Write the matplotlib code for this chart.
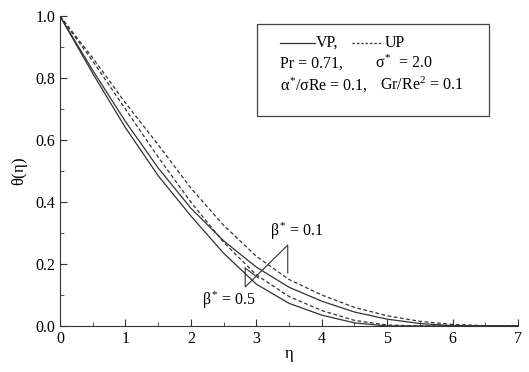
import matplotlib
matplotlib.use("Agg")
import matplotlib.pyplot as plt
from matplotlib.ticker import MultipleLocator

plt.rcParams['font.family'] = ['Liberation Serif', 'DejaVu Serif']
plt.rcParams['mathtext.fontset'] = 'custom'
plt.rcParams['mathtext.rm'] = 'Liberation Serif'
plt.rcParams['mathtext.it'] = 'Liberation Serif'
plt.rcParams['mathtext.bf'] = 'Liberation Serif:bold'

# theta(eta)
eta = [0, 0.5, 1, 1.5, 2, 2.5, 3, 3.5, 4, 4.5, 5, 5.5, 6, 6.5, 7]
vp_b05 = [1.0, 0.815, 0.64, 0.485, 0.355, 0.235, 0.135, 0.073, 0.035, 0.010, 0.0, 0.0, 0.0, 0.0, 0.0]
vp_b01 = [1.0, 0.825, 0.66, 0.51, 0.38, 0.275, 0.19, 0.125, 0.08, 0.045, 0.022, 0.008, 0.001, 0.0, 0.0]
up_b05 = [1.0, 0.855, 0.70, 0.545, 0.40, 0.27, 0.165, 0.095, 0.05, 0.018, 0.003, 0.0, 0.0, 0.0, 0.0]
up_b01 = [1.0, 0.865, 0.72, 0.585, 0.445, 0.325, 0.225, 0.15, 0.10, 0.06, 0.033, 0.015, 0.005, 0.001, 0.0]

fig = plt.figure(figsize=(5.29, 3.72), dpi=100)
ax = fig.add_axes([0.1134, 0.1237, 0.866, 0.833])

lw = 0.9
ax.plot(eta, vp_b05, color='#333333', lw=lw)
ax.plot(eta, vp_b01, color='#333333', lw=lw)
ax.plot(eta, up_b05, color='#333333', lw=lw, ls=(0, (3, 2)))
ax.plot(eta, up_b01, color='#333333', lw=lw, ls=(0, (3, 2)))

# bracket marks for beta*
ax.plot([2.83, 2.83, 3.48, 3.48], [0.187, 0.126, 0.261, 0.171], color='#333333', lw=0.8)
ax.plot([2.83, 3.03], [0.187, 0.155], color='#333333', lw=0.8)
ax.text(3.62, 0.306, r'$\beta^{*}$' + ' = 0.1', ha='center', va='center', fontsize=11.5)
ax.text(2.58, 0.084, r'$\beta^{*}$' + ' = 0.5', ha='center', va='center', fontsize=11.5)

# legend box
ax.add_patch(plt.Rectangle((3.01, 0.677), 3.55, 0.297, fill=False, ec='#444444', lw=0.9))
ax.plot([3.36, 3.90], [0.913, 0.913], color='#333333', lw=lw)
ax.text(3.91, 0.913, 'VP,', ha='left', va='center', fontsize=11.5)
ax.plot([4.46, 4.94], [0.913, 0.913], color='#333333', lw=lw, ls=(0, (2, 1.5)))
ax.text(4.96, 0.913, 'UP', ha='left', va='center', fontsize=11.5)
ax.text(3.36, 0.848, 'Pr = 0.71,', ha='left', va='center', fontsize=11.5)
ax.text(4.81, 0.848, r'$\sigma^{*}$' + '  = 2.0', ha='left', va='center', fontsize=11.5)
ax.text(3.36, 0.777, r'$\alpha^{*}/\sigma$' + 'Re = 0.1,', ha='left', va='center', fontsize=11.5)
ax.text(4.89, 0.777, 'Gr/Re$^{2}$ = 0.1', ha='left', va='center', fontsize=11.5)

ax.set_xlim(0, 7)
ax.set_ylim(0, 1.0)
ax.xaxis.set_major_locator(MultipleLocator(1))
ax.xaxis.set_minor_locator(MultipleLocator(0.5))
ax.yaxis.set_major_locator(MultipleLocator(0.2))
ax.yaxis.set_minor_locator(MultipleLocator(0.1))
ax.yaxis.set_major_formatter(matplotlib.ticker.FormatStrFormatter('%.1f'))
ax.tick_params(which='both', direction='in', labelsize=11.5, color='#333333')
ax.tick_params(which='major', length=5)
ax.tick_params(which='minor', length=3)
for s in ['top', 'right']:
    ax.spines[s].set_visible(False)
for s in ['left', 'bottom']:
    ax.spines[s].set_color('#333333')

ax.set_xlabel(r'$\eta$', fontsize=12, labelpad=1)
ax.set_ylabel(r'$\theta(\eta)$', fontsize=12, labelpad=4)

fig.savefig('out.png', dpi=100)
